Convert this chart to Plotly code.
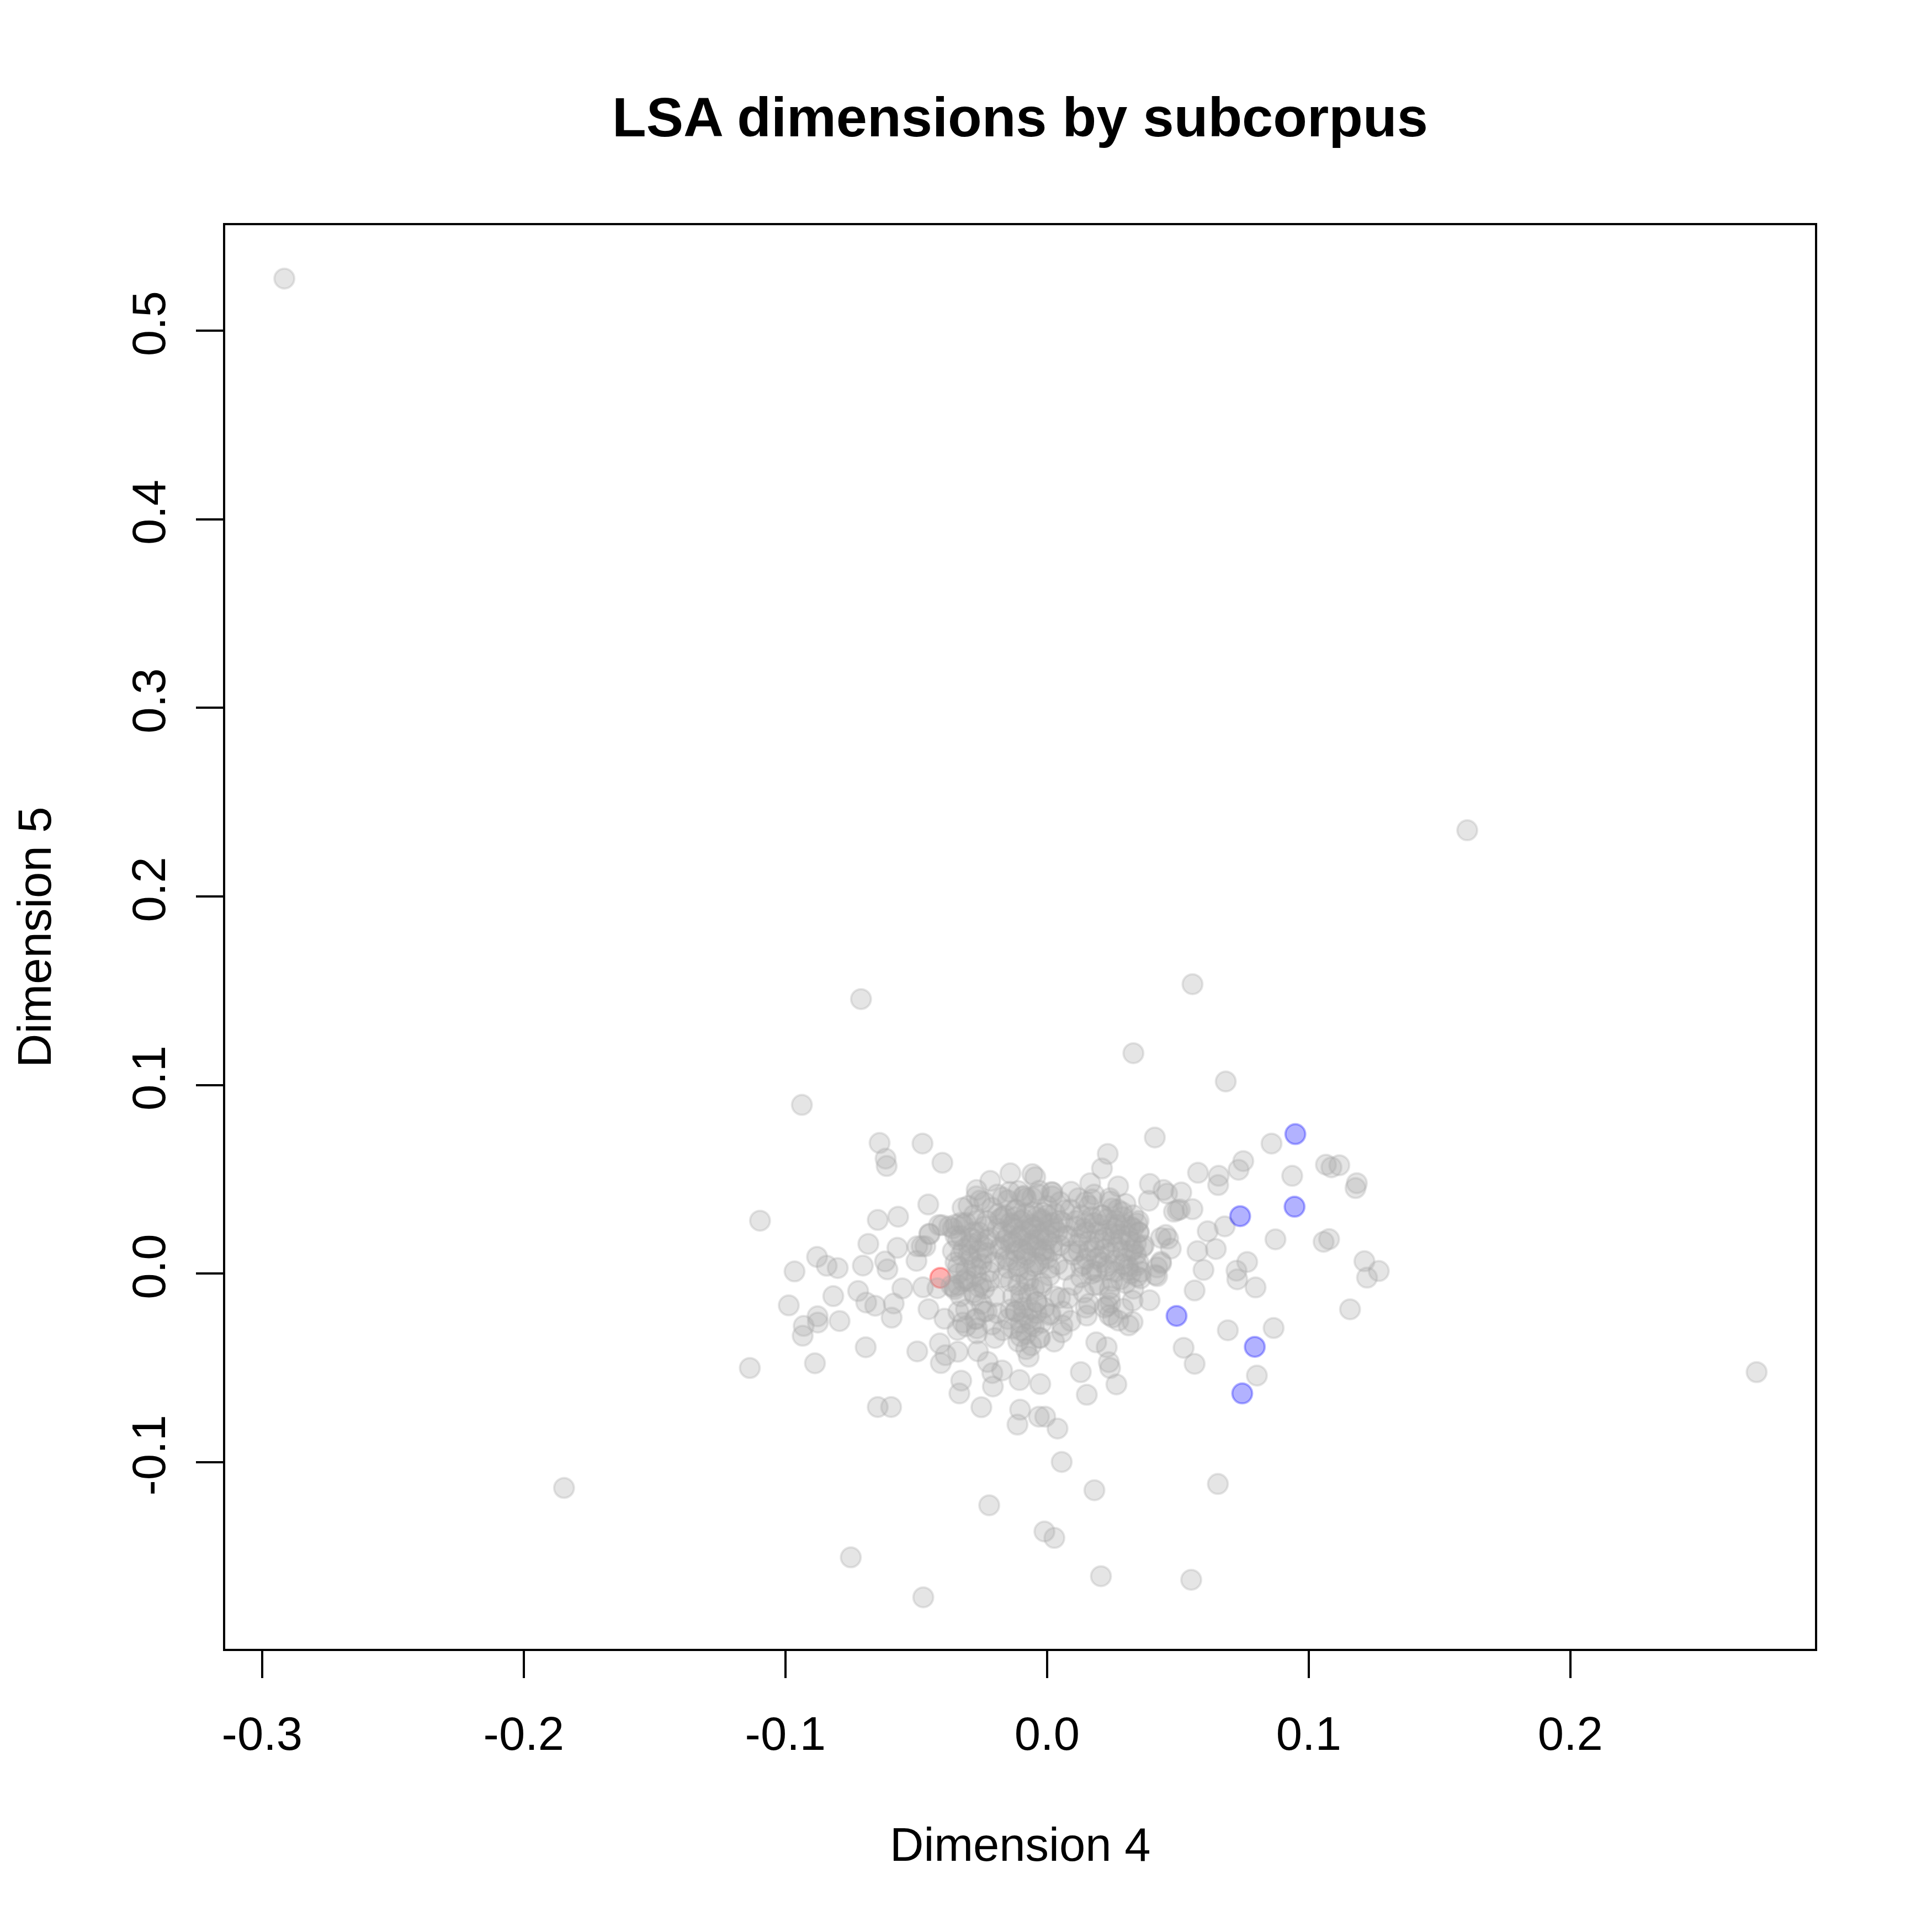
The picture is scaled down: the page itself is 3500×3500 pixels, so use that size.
import plotly.graph_objects as go

# ---- data (Dimension 4 = x, Dimension 5 = y) ----
other_x = [
    # far outliers
    -0.2915, 0.1606, 0.2712, -0.1846, -0.0711, 0.0556, 0.0330, 0.0683, -0.0937, -0.1097,
    -0.1136, -0.0750, -0.0473, -0.0221, -0.0010, 0.0028, 0.0206, 0.0181, 0.0056, 0.0551, 0.0653,
    # left / lower scattered
    -0.0640, -0.0476, -0.0617, -0.0613, -0.0400, -0.0647, -0.0569, -0.0454, -0.0683, -0.0572,
    -0.0879, -0.0965, -0.0842, -0.0800, -0.0704, -0.0619, -0.0610, -0.0496, -0.0499, -0.0450,
    -0.0401, -0.0553, -0.0722, -0.0817, -0.0987, -0.0691, -0.0657, -0.0586, -0.0594, -0.0877,
    -0.0876, -0.0930, -0.0934, -0.0793, -0.0693, -0.0887, -0.0496, -0.0453, -0.0474, -0.0419,
    -0.0356, -0.0392, -0.0322, -0.0410, -0.0388, -0.0406, -0.0341, -0.0264, -0.0227, -0.0209,
    -0.0172, -0.0328, -0.0335, -0.0207, -0.0251, -0.0105, -0.0026, -0.0103, -0.0113, -0.0031,
    -0.0007, 0.0040, -0.0647, -0.0596, 0.0129, 0.0152, 0.0188, 0.0057, 0.0027, -0.0026,
    -0.0101, -0.0200, -0.0268, -0.0276, 0.0059, 0.0014, 0.0050, 0.0148, 0.0152,
    # upper fringe of the cluster
    -0.0217, -0.0140, -0.0056, -0.0045, -0.0269, -0.0143, 0.0021, 0.0092, 0.0165, 0.0148,
    -0.0323, -0.0256, -0.0092, -0.0035, 0.0067, -0.0016, -0.0120, -0.0189, -0.0374, -0.0479,
    -0.0465, -0.0449, -0.0413, -0.0240, -0.0170, -0.0086, -0.0057, -0.0109, 0.0017, -0.0352,
    -0.0366, -0.0339, -0.0268, -0.0275, -0.0240, -0.0310, -0.0342,
    # right side
    0.0412, 0.0858, 0.0232, 0.0210, 0.0750, 0.0732, 0.0577, 0.0656, 0.0654, 0.0937,
    0.1066, 0.1087, 0.1117, 0.1184, 0.1179, 0.0272, 0.0393, 0.0445, 0.0459, 0.0513,
    0.0389, 0.0242, 0.0485, 0.0499, 0.0556, 0.0614, 0.0679, 0.0873, 0.1057, 0.1078,
    0.1213, 0.1268, 0.1223, 0.1158, 0.0454, 0.0463, 0.0473, 0.0575, 0.0645, 0.0436,
    0.0598, 0.0765, 0.0724, 0.0727, 0.0797, 0.0564, 0.0421, 0.0392, 0.0327, 0.0242,
    0.0251, 0.0327, 0.0312, 0.0228, 0.0236, 0.0241, 0.0265, 0.0522, 0.0564, 0.0691,
    0.0866, 0.0802, 0.0172, 0.0288, 0.0249, 0.0508, 0.0435, 0.0435, 0.0421, 0.0344,
    0.0365, 0.0323, 0.0351, 0.0344, 0.0414, 0.0358, 0.0344, 0.0231, 0.0238, 0.0273, 0.0291,
    # dense core
    -0.036, -0.034, -0.033, -0.032, -0.031, -0.030, -0.029, -0.028, -0.028, -0.027,
    -0.026, -0.025, -0.025, -0.024, -0.023, -0.022, -0.022, -0.021, -0.020, -0.020,
    -0.019, -0.018, -0.017, -0.017, -0.016, -0.015, -0.015, -0.014, -0.035, -0.033,
    -0.030, -0.027, -0.024, -0.019,
    -0.013, -0.012, -0.012, -0.011, -0.010, -0.010, -0.009, -0.008, -0.008, -0.007,
    -0.007, -0.006, -0.005, -0.005, -0.004, -0.004, -0.003, -0.003, -0.002, -0.002,
    -0.001, 0.000, 0.000, 0.001, 0.001, 0.002, 0.002, 0.003, 0.003, 0.004,
    0.004, 0.005, 0.005,
    -0.012, -0.010, -0.009, -0.008, -0.007, -0.006, -0.005, -0.004, -0.003, -0.002,
    -0.011, -0.013, -0.001, -0.007, -0.015, -0.017, -0.019, -0.021, -0.023,
    0.006, 0.007, 0.008, 0.009, 0.010, 0.010, 0.011, 0.012, 0.013, 0.013,
    0.014, 0.015, 0.016, 0.016, 0.017, 0.018, 0.019, 0.020, 0.020, 0.021,
    0.022, 0.023, 0.023, 0.024, 0.025, 0.026, 0.026, 0.027, 0.028, 0.028,
    0.029, 0.030, 0.031, 0.032, 0.033, 0.033, 0.034, 0.035, 0.036, 0.037,
    0.030, 0.024, 0.018, 0.012, 0.008, 0.016, 0.022,
    -0.031, -0.027, 0.006, 0.009, 0.001,
    # darkest centre
    -0.018, -0.016, -0.014, -0.012, -0.010, -0.008, -0.006, -0.004, -0.002, 0.000, 0.002,
    -0.017, -0.015, -0.013, -0.011, -0.009, -0.007, -0.005, -0.003, -0.001, 0.001, 0.003,
    -0.018, -0.014, -0.010, -0.006, -0.002, 0.002,
    -0.016, -0.012, -0.008, -0.004, 0.000,
    -0.015, -0.011, -0.007, -0.003, 0.001,
    -0.013, -0.009, -0.005, -0.001,
    # left lobe
    -0.036, -0.034, -0.032, -0.030, -0.028, -0.026, -0.024,
    -0.035, -0.033, -0.031, -0.029, -0.027, -0.025, -0.023,
    -0.034, -0.030, -0.026,
    -0.035, -0.032, -0.029, -0.026, -0.023, -0.034, -0.031, -0.028, -0.025, -0.022,
    -0.033, -0.027,
    # right lobe
    0.011, 0.014, 0.017, 0.020, 0.023, 0.026, 0.029, 0.032, 0.035,
    0.012, 0.015, 0.018, 0.021, 0.024, 0.027, 0.030, 0.033,
    0.013, 0.019, 0.025, 0.031,
    0.013, 0.016, 0.019, 0.022, 0.025, 0.028, 0.031, 0.034,
    0.014, 0.017, 0.020, 0.023, 0.026, 0.029, 0.032, 0.035,
    0.015, 0.021, 0.027, 0.033, 0.018, 0.024, 0.030,
    # stem below the centre
    -0.014, -0.011, -0.008, -0.005, -0.002, -0.013, -0.010, -0.007, -0.004, -0.012, -0.009, -0.006,
    -0.010, -0.006, -0.008,
    # between centre and right lobe
    0.005, 0.007, 0.009,
]
other_y = [
    0.5276, 0.2351, -0.0522, -0.1136, 0.1456, 0.1535, 0.1169, 0.1019, 0.0895, 0.0281,
    -0.0500, -0.1504, -0.1716, -0.1228, -0.1367, -0.1401, -0.1604, -0.1148, -0.0998, -0.1623, -0.1115,
    0.0693, 0.0690, 0.0610, 0.0571, 0.0588, 0.0285, 0.0302, 0.0367, 0.0158, 0.0137,
    0.0089, 0.0012, 0.0042, 0.0030, 0.0043, 0.0065, 0.0023, 0.0145, 0.0068, 0.0212,
    0.0257, -0.0078, -0.0092, -0.0119, -0.0168, -0.0153, -0.0170, -0.0158, -0.0233, -0.0226,
    -0.0259, -0.0277, -0.0329, -0.0251, -0.0390, -0.0475, -0.0412, -0.0188, -0.0072, -0.0077,
    -0.0072, -0.0239, -0.0259, -0.0370, -0.0432, -0.0474, -0.0414, -0.0411, -0.0468, -0.0527,
    -0.0513, -0.0567, -0.0635, -0.0598, -0.0708, -0.0564, -0.0585, -0.0721, -0.0800, -0.0758,
    -0.0758, -0.0821, -0.0707, -0.0707, -0.0522, -0.0642, -0.0364, -0.0311, -0.0360, -0.0340,
    -0.0332, -0.0341, -0.0317, -0.0115, -0.0274, -0.0213, -0.0128, -0.0180, -0.0222,
    0.0492, 0.0532, 0.0528, 0.0512, 0.0444, 0.0434, 0.0431, 0.0434, 0.0480, 0.0380,
    0.0349, 0.0388, 0.0408, 0.0421, 0.0336, 0.0323, 0.0336, 0.0316, 0.0251, 0.0145,
    0.0145, 0.0209, 0.0258, 0.0380, 0.0404, 0.0414, 0.0404, 0.0438, 0.0433, -0.0083,
    -0.0064, -0.0201, -0.0289, -0.0240, -0.0201, -0.0279, -0.0298,
    0.0722, 0.0690, 0.0635, 0.0558, 0.0597, 0.0551, 0.0535, 0.0519, 0.0470, 0.0519,
    0.0578, 0.0564, 0.0575, 0.0480, 0.0454, 0.0463, 0.0476, 0.0444, 0.0425, 0.0431,
    0.0387, 0.0384, 0.0329, 0.0336, 0.0342, 0.0225, 0.0251, 0.0182, 0.0169, 0.0183,
    0.0066, 0.0014, -0.0021, -0.0189, 0.0205, 0.0186, 0.0133, 0.0120, 0.0131, 0.0055,
    0.0020, 0.0062, 0.0016, -0.0030, -0.0073, -0.0089, -0.0013, -0.0141, -0.0143, -0.0154,
    -0.0232, -0.0256, -0.0274, -0.0390, -0.0469, -0.0500, -0.0587, -0.0393, -0.0478, -0.0300,
    -0.0288, -0.0540, 0.0394, 0.0326, 0.0346, 0.0341, 0.0190, 0.0063, 0.0033, 0.0043,
    0.0140, 0.0121, 0.0219, 0.0267, -0.0006, -0.0025, -0.0015, -0.0171, -0.0220, -0.0249, -0.0186,
    0.012, 0.004, 0.020, -0.004, 0.027, 0.010, 0.016, -0.010, 0.031, 0.003,
    0.022, 0.008, -0.016, 0.014, 0.028, -0.004, 0.019, 0.035, 0.006, -0.012,
    0.024, 0.013, 0.030, -0.002, 0.018, 0.039, 0.007, -0.019, 0.026, -0.012,
    0.036, 0.041, -0.008, 0.042,
    0.026, 0.012, 0.034, 0.001, 0.020, -0.010, 0.029, 0.008, 0.040, 0.016,
    -0.004, 0.024, 0.033, 0.004, -0.015, 0.014, 0.044, 0.021, 0.029, -0.007,
    0.010, 0.036, 0.018, -0.001, 0.026, 0.041, 0.012, -0.012, 0.032, 0.022,
    0.005, 0.015, 0.038,
    -0.020, -0.026, -0.018, -0.032, -0.024, -0.038, -0.028, -0.021, -0.034, -0.026,
    -0.036, -0.029, -0.018, -0.044, -0.024, -0.030, -0.021, -0.027, -0.020,
    0.027, 0.002, 0.020, 0.034, 0.010, -0.006, 0.025, 0.016, 0.031, 0.004,
    -0.010, 0.022, 0.012, 0.036, 0.000, 0.027, 0.008, 0.018, -0.006, 0.031,
    0.013, 0.023, 0.002, -0.012, 0.017, 0.028, 0.007, 0.034, 0.021, -0.003,
    0.012, 0.026, 0.004, 0.017, 0.031, -0.008, 0.010, 0.022, 0.001, 0.015,
    0.037, 0.040, 0.042, 0.040, -0.013, -0.016, -0.018,
    -0.019, -0.024, -0.020, -0.025, -0.022,
    # darkest centre
    0.029, 0.031, 0.027, 0.030, 0.028, 0.032, 0.026, 0.030, 0.028, 0.031, 0.027,
    0.022, 0.020, 0.024, 0.019, 0.023, 0.021, 0.025, 0.018, 0.022, 0.020, 0.024,
    0.014, 0.016, 0.013, 0.015, 0.012, 0.016,
    0.009, 0.007, 0.010, 0.006, 0.008,
    0.003, 0.004, 0.002, 0.005, 0.003,
    0.017, 0.012, 0.018, 0.013,
    # left lobe
    0.024, 0.018, 0.026, 0.015, 0.022, 0.017, 0.025,
    0.006, 0.010, 0.002, 0.008, -0.001, 0.005, 0.011,
    -0.006, -0.004, -0.007,
    0.020, 0.013, 0.019, 0.012, 0.018, 0.000, -0.003, 0.004, -0.005, 0.001,
    0.027, 0.028,
    # right lobe
    0.028, 0.024, 0.030, 0.026, 0.029, 0.024, 0.030, 0.025, 0.028,
    0.012, 0.008, 0.014, 0.006, 0.011, 0.014, 0.008, 0.013,
    -0.002, 0.001, -0.004, 0.002,
    0.020, 0.017, 0.022, 0.019, 0.021, 0.018, 0.020, 0.016,
    0.005, 0.002, 0.009, 0.004, 0.001, 0.005, 0.000, 0.006,
    0.027, 0.031, 0.026, 0.024, -0.006, -0.008, -0.005,
    # stem below the centre
    -0.004, -0.006, -0.003, -0.008, -0.005, -0.012, -0.014, -0.011, -0.015, -0.020, -0.022, -0.019,
    -0.030, -0.027, -0.040,
    # between centre and right lobe
    0.028, 0.020, 0.012,
]

blue_x = [0.0949, 0.0946, 0.0738, 0.0495, 0.0794, 0.0746]
blue_y = [0.0740, 0.0355, 0.0305, -0.0224, -0.0388, -0.0635]

red_x = [-0.0408]
red_y = [-0.0022]

x_ticks = [-0.3, -0.2, -0.1, 0.0, 0.1, 0.2]
x_tick_labels = ["-0.3", "-0.2", "-0.1", "0.0", "0.1", "0.2"]
y_ticks = [-0.1, 0.0, 0.1, 0.2, 0.3, 0.4, 0.5]
y_tick_labels = ["-0.1", "0.0", "0.1", "0.2", "0.3", "0.4", "0.5"]

FONT = "Liberation Sans, Arial, Helvetica, sans-serif"


def marker(rgb):
    return dict(
        symbol="circle",
        size=36,
        color="rgba(%d,%d,%d,0.3)" % rgb,
        line=dict(color="rgba(%d,%d,%d,0.3)" % rgb, width=4),
    )


fig = go.Figure()
fig.add_trace(go.Scatter(x=red_x, y=red_y, mode="markers",
                         marker=marker((255, 0, 0)), hoverinfo="skip"))
fig.add_trace(go.Scatter(x=other_x, y=other_y, mode="markers",
                         marker=marker((169, 169, 169)), hoverinfo="skip"))
fig.add_trace(go.Scatter(x=blue_x, y=blue_y, mode="markers",
                         marker=marker((0, 0, 255)), hoverinfo="skip"))

axis_common = dict(
    showgrid=False, zeroline=False, showline=True, mirror=True,
    linecolor="black", linewidth=4,
    ticks="outside", ticklen=49, tickwidth=3.5, tickcolor="black",
    tickfont=dict(family=FONT, size=85, color="black"),
)

fig.update_layout(
    width=3500, height=3500,
    margin=dict(l=408, r=212, t=408, b=513, pad=0),
    paper_bgcolor="white", plot_bgcolor="white",
    showlegend=False,
    xaxis=dict(range=[-0.3141, 0.2935], tickmode="array", tickvals=x_ticks,
               ticktext=x_tick_labels, ticklabelstandoff=28, **axis_common),
    yaxis=dict(range=[-0.1989, 0.5559], tickmode="array", tickvals=y_ticks,
               ticktext=y_tick_labels, tickangle=-90, ticklabelstandoff=22, **axis_common),
    annotations=[
        dict(text="<b>LSA dimensions by subcorpus</b>", xref="paper", yref="paper",
             x=0.5, y=1.0760, xanchor="center", yanchor="middle", showarrow=False,
             font=dict(family=FONT, size=101, color="black")),
        dict(text="Dimension 4", xref="paper", yref="paper",
             x=0.5, y=-0.1373, xanchor="center", yanchor="middle", showarrow=False,
             font=dict(family=FONT, size=85, color="black")),
        dict(text="Dimension 5", xref="paper", yref="paper",
             x=-0.120, y=0.5, xanchor="center", yanchor="middle", showarrow=False,
             textangle=-90, font=dict(family=FONT, size=85, color="black")),
    ],
)

fig.write_html("out.html", config={"displayModeBar": False},
               post_script="document.body.style.margin='0';")
